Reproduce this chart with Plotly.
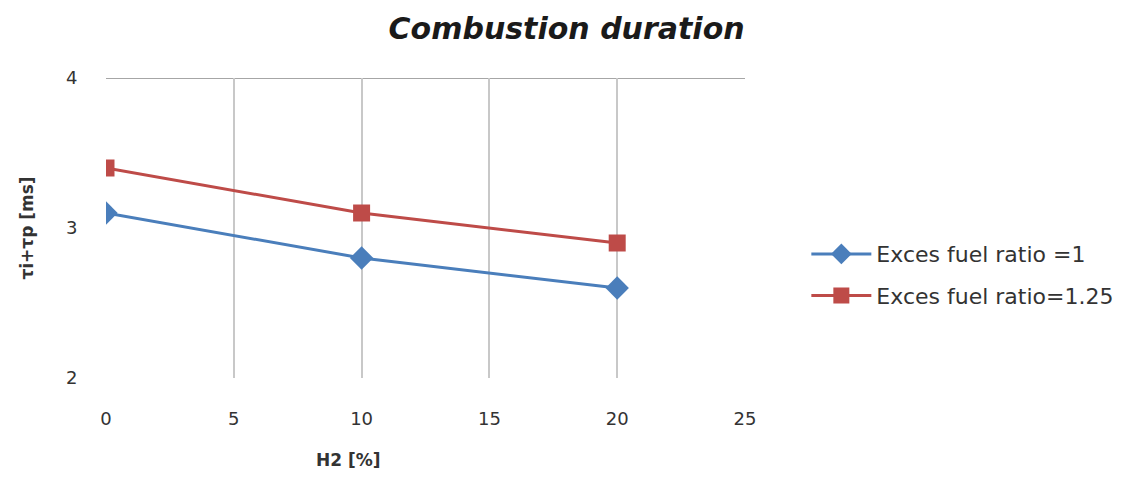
import plotly.graph_objects as go

# H2 share in the fuel blend [%]
h2_percent = [0, 10, 20]

# Combustion duration ti+tp [ms] for two excess fuel ratios
duration_ratio_1 = [3.1, 2.8, 2.6]
duration_ratio_125 = [3.4, 3.1, 2.9]

series_names = ["Exces fuel ratio =1", "Exces fuel ratio=1.25"]
x_ticks = [0, 5, 10, 15, 20, 25]
y_ticks = [2, 3, 4]

BLUE = "#4A7EBB"
RED = "#BE4B48"
FONT = "DejaVu Sans, sans-serif"
TEXT = "#333333"

fig = go.Figure()
fig.add_trace(go.Scatter(
    x=h2_percent, y=duration_ratio_1, name=series_names[0], legendgroup="r1",
    mode="lines+markers",
    line=dict(color=BLUE, width=3),
    marker=dict(symbol="diamond", size=18, color=BLUE),
))
fig.add_trace(go.Scatter(
    x=h2_percent, y=duration_ratio_125, name=series_names[1], legendgroup="r125",
    mode="lines+markers",
    line=dict(color=RED, width=3),
    marker=dict(symbol="square", size=17, color=RED),
))

# upper border of the plot area at the top of the value axis
fig.add_shape(type="line", xref="paper", yref="y", x0=0, x1=1, y0=4, y1=4,
              line=dict(color="#A6A6A6", width=2), layer="below")

# category axis title, placed below the tick labels
fig.add_annotation(text="<b>H2 [%]</b>", xref="paper", yref="paper",
                   x=(348 - 106) / 639, y=-(460 - 378) / 300,
                   xanchor="center", yanchor="middle", showarrow=False,
                   font=dict(family=FONT, size=17, color=TEXT))

fig.update_layout(
    width=1140, height=478,
    margin=dict(l=106, r=395, t=78, b=100),
    paper_bgcolor="white", plot_bgcolor="white",
    font=dict(family=FONT, color=TEXT, size=16),
    title=dict(text="<b><i>Combustion duration</i></b>", x=0.497, xanchor="center",
               y=0.94, yanchor="middle",
               font=dict(family=FONT, size=30, color="#1a1a1a")),
    showlegend=True,
    legend=dict(x=1.096, y=0.343, xanchor="left", yanchor="middle",
                font=dict(family=FONT, size=22, color=TEXT),
                tracegroupgap=10, itemwidth=60, bgcolor="rgba(0,0,0,0)"),
)

fig.update_xaxes(
    range=[0, 25], tickvals=x_ticks, ticktext=[str(v) for v in x_ticks],
    showgrid=True, gridcolor="#C8C8C8", gridwidth=2,
    zeroline=False, showline=False,
    ticks="", ticklabelstandoff=28,
    tickfont=dict(family=FONT, size=18, color=TEXT),
)
fig.update_yaxes(
    range=[2, 4], tickvals=y_ticks, ticktext=[str(v) for v in y_ticks],
    showgrid=False, zeroline=False, showline=False,
    ticks="outside", ticklen=24, tickcolor="rgba(0,0,0,0)",
    tickfont=dict(family=FONT, size=18, color=TEXT),
    title=dict(text="<b>τi+τp [ms]</b>", font=dict(family=FONT, size=17, color=TEXT), standoff=27),
)

fig.write_html("out.html")
